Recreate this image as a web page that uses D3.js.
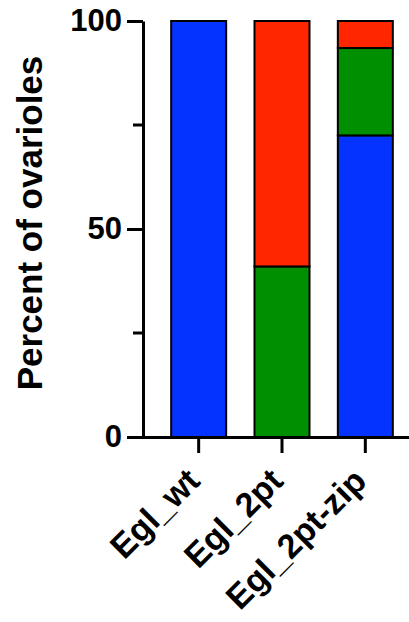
<!DOCTYPE html>
<html lang="en">
<head>
  <meta charset="UTF-8">
  <title>Percent of ovarioles</title>
  <script src="https://d3js.org/d3.v7.min.js"></script>
  <style>
    body { margin: 0; background: #fff; }
    svg text { font-family: "Liberation Sans", Arial, sans-serif; font-weight: bold; }
  </style>
</head>
<body>
  <svg id="chart" width="409" height="622"></svg>
  <script>
    // data
    const genotypes = ["Egl_wt", "Egl_2pt", "Egl_2pt-zip"];
    const categories = ["blue", "green", "red"];
    const blueVals = [100, 0, 72.5];
    const greenVals = [0, 41, 21];
    const redVals = [0, 59, 6.5];
    const yTicks = [0, 50, 100];
    const yMinorTicks = [25, 75];

    const colors = {blue: "#0433FF", green: "#008F00", red: "#FF2600"};

    const rows = genotypes.map((g, i) => ({
      genotype: g, blue: blueVals[i], green: greenVals[i], red: redVals[i]
    }));

    const svg = d3.select("#chart");
    const x0 = 143, xEnd = 409, yTop = 21, yBottom = 437;

    const x = d3.scaleBand().domain(genotypes).range([157, 407])
      .paddingInner(0.34).paddingOuter(0.17);
    const y = d3.scaleLinear().domain([0, 100]).range([yBottom, yTop]);

    const stacked = d3.stack().keys(categories)(rows);

    svg.append("g").selectAll("g")
      .data(stacked)
      .join("g")
      .attr("fill", d => colors[d.key])
      .selectAll("rect")
      .data(d => d.filter(p => p[1] - p[0] > 0))
      .join("rect")
      .attr("x", d => x(d.data.genotype))
      .attr("y", d => y(d[1]))
      .attr("width", x.bandwidth())
      .attr("height", d => y(d[0]) - y(d[1]))
      .attr("stroke", "#000")
      .attr("stroke-width", 2);

    // y axis
    const yAxis = svg.append("g").attr("transform", `translate(${x0},0)`)
      .call(d3.axisLeft(y).tickValues(yTicks).tickSize(16).tickPadding(5).tickSizeOuter(0));
    yAxis.append("g").selectAll("line")
      .data(yMinorTicks)
      .join("line")
      .attr("x1", -10).attr("x2", 0)
      .attr("y1", d => y(d)).attr("y2", d => y(d))
      .attr("stroke", "#000");
    yAxis.selectAll("line").attr("stroke-width", 3);
    yAxis.select(".domain").attr("stroke-width", 3);
    yAxis.selectAll("text").attr("font-size", 31).attr("fill", "#000")
      .attr("font-family", "Liberation Sans, Arial, sans-serif").attr("font-weight", "bold");

    // x axis
    const xAxis = svg.append("g").attr("transform", `translate(0,${yBottom})`)
      .call(d3.axisBottom(x).tickSize(16).tickSizeOuter(0));
    xAxis.select(".domain").attr("d", `M${x0 - 1.5},0.5H${xEnd}`).attr("stroke-width", 3);
    xAxis.selectAll("line").attr("stroke-width", 3);
    xAxis.selectAll("text")
      .attr("font-size", 34).attr("fill", "#000")
      .attr("font-family", "Liberation Sans, Arial, sans-serif").attr("font-weight", "bold")
      .attr("text-anchor", "end")
      .attr("y", 0).attr("dy", 0)
      .attr("transform", "translate(3,46) rotate(-45)");

    // axis title
    svg.append("text")
      .attr("transform", `translate(42,${(yTop + yBottom) / 2 - 6}) rotate(-90)`)
      .attr("text-anchor", "middle")
      .attr("font-size", 35)
      .text("Percent of ovarioles");
  </script>
</body>
</html>
